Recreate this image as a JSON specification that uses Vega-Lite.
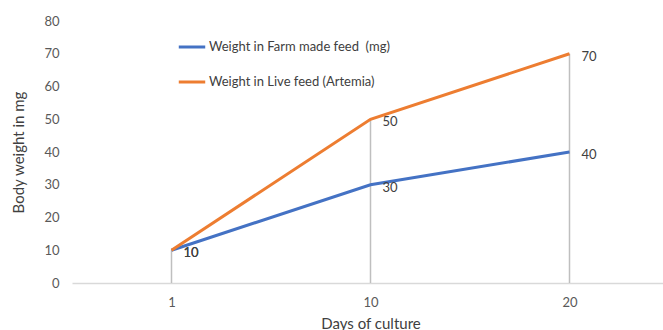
{
  "$schema": "https://vega.github.io/schema/vega-lite/v6.json",
  "width": 597,
  "height": 262,
  "autosize": {"type": "none"},
  "padding": {"left": 72, "top": 21, "right": 0, "bottom": 47},
  "config": {
    "font": "Lato",
    "view": {"stroke": null},
    "axis": {"labelFont": "Lato", "titleFont": "Lato", "labelColor": "#595959", "titleColor": "#404040", "labelFontSize": 13, "titleFontSize": 15, "titleFontWeight": "normal", "ticks": false, "grid": false, "labelOverlap": false}
  },
  "data": {
    "values": [
      {"day": "1", "series": "Weight in Farm made feed \u00a0(mg)", "weight": 10},
      {"day": "10", "series": "Weight in Farm made feed \u00a0(mg)", "weight": 30},
      {"day": "20", "series": "Weight in Farm made feed \u00a0(mg)", "weight": 40},
      {"day": "1", "series": "Weight in Live feed (Artemia)", "weight": 10},
      {"day": "10", "series": "Weight in Live feed (Artemia)", "weight": 50},
      {"day": "20", "series": "Weight in Live feed (Artemia)", "weight": 70}
    ]
  },
  "encoding": {
    "x": {"field": "day", "type": "ordinal", "sort": ["1", "10", "20"], "scale": {"type": "point", "padding": 0.5},
      "axis": {"title": "Days of culture", "labelAngle": 0, "domainColor": "#d9d9d9", "domainWidth": 1.5, "labelPadding": 13, "titlePadding": 7}}
  },
  "layer": [
    {
      "mark": {"type": "rule", "color": "#bfbfbf", "strokeWidth": 1.5},
      "encoding": {
        "y": {"aggregate": "max", "field": "weight", "type": "quantitative", "scale": {"domain": [0, 80]},
          "axis": {"title": "Body weight in mg", "values": [0,10,20,30,40,50,60,70,80], "labelOverlap": false, "domain": false, "labelPadding": 13, "titlePadding": 17}},
        "y2": {"datum": 0}
      }
    },
    {
      "mark": {"type": "line", "strokeWidth": 3},
      "encoding": {
        "y": {"field": "weight", "type": "quantitative", "scale": {"domain": [0, 80]},
          "axis": {"title": "Body weight in mg", "values": [0,10,20,30,40,50,60,70,80], "labelOverlap": false, "domain": false, "labelPadding": 13, "titlePadding": 17}},
        "color": {"field": "series", "type": "nominal",
          "scale": {"domain": ["Weight in Farm made feed \u00a0(mg)", "Weight in Live feed (Artemia)"], "range": ["#4472C4", "#ED7D31"]},
          "legend": {"title": null, "orient": "none", "legendX": 105, "legendY": 11, "symbolType": "stroke", "symbolSize": 700, "symbolStrokeWidth": 3, "labelFont": "Lato", "labelFontSize": 13, "labelColor": "#404040", "labelLimit": 400, "rowPadding": 13, "labelOffset": 2, "symbolOffset": 0}}
      }
    },
    {
      "mark": {"type": "text", "align": "left", "dx": 12, "dy": 3, "fontSize": 13, "color": "#404040", "font": "Lato"},
      "encoding": {
        "y": {"field": "weight", "type": "quantitative", "scale": {"domain": [0, 80]},
          "axis": {"title": "Body weight in mg", "values": [0,10,20,30,40,50,60,70,80], "labelOverlap": false, "domain": false, "labelPadding": 13, "titlePadding": 17}},
        "text": {"field": "weight", "type": "quantitative"}
      }
    }
  ]
}
